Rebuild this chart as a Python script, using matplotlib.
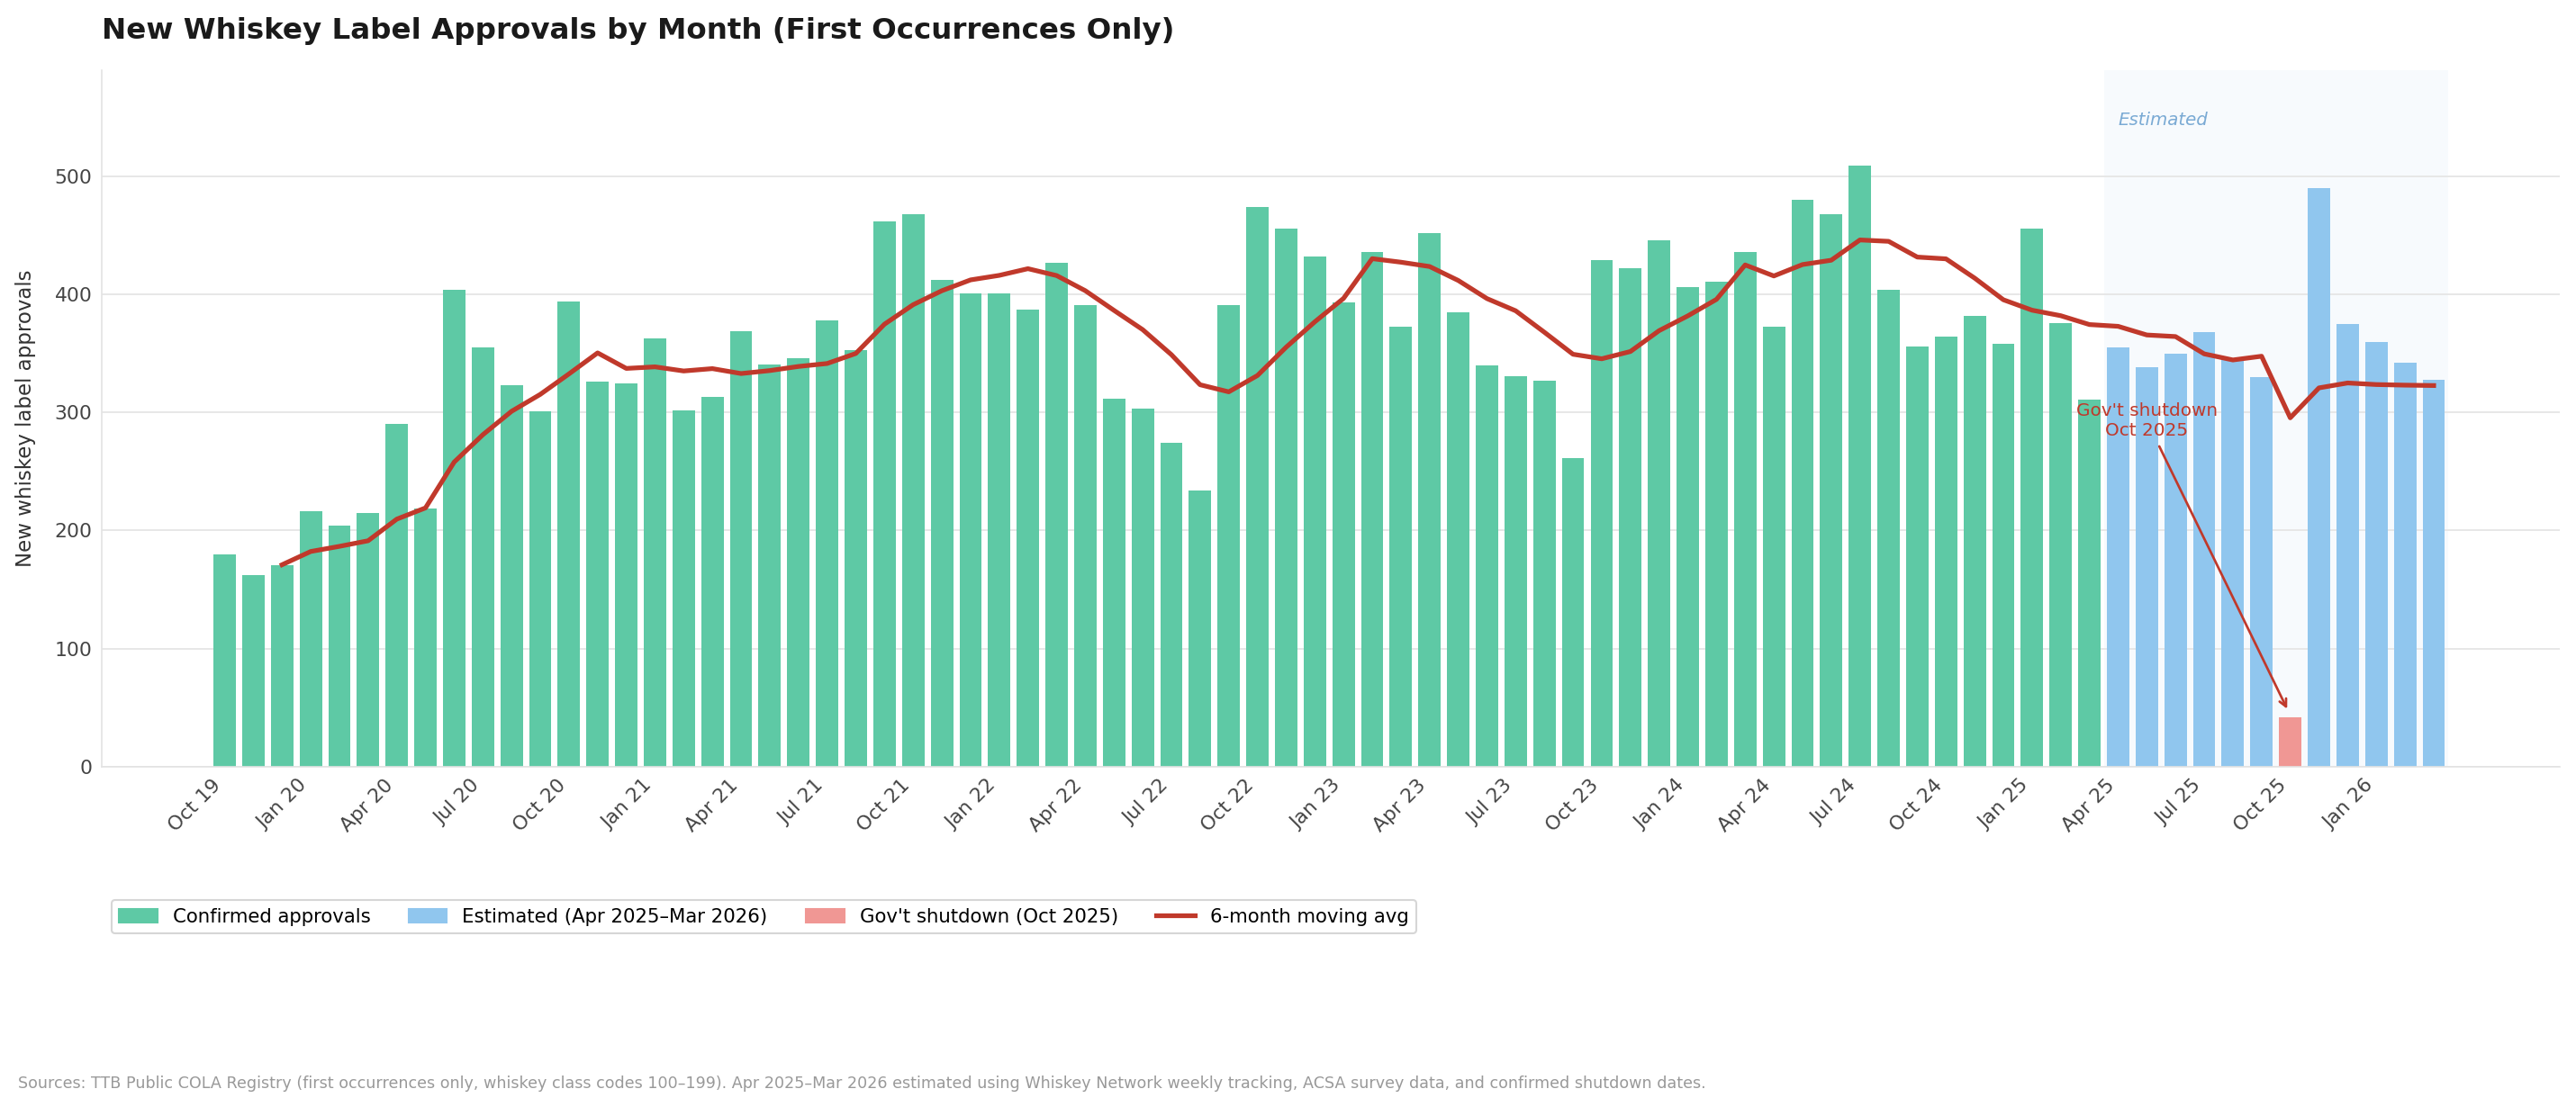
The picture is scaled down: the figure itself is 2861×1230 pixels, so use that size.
import matplotlib
matplotlib.use('Agg')
import matplotlib.pyplot as plt
from matplotlib.patches import Patch
from matplotlib.lines import Line2D
import numpy as np
import pandas as pd

# Months on the x axis (Oct 2019 .. Mar 2026)
months = pd.date_range('2019-10-01', periods=78, freq='MS')
month_labels = [m.strftime('%b %y') for m in months]

# Confirmed first-occurrence approvals, Oct 2019 .. Mar 2025
confirmed = [180, 162, 171, 216, 204, 215, 290, 219, 404, 355, 323, 301,
             394, 326, 325, 363, 302, 313, 369, 341, 346, 378, 353, 462,
             468, 412, 401, 401, 387, 427, 391, 312, 303, 274, 234, 391,
             474, 456, 432, 393, 436, 373, 452, 385, 340, 331, 327, 261,
             429, 422, 446, 406, 411, 436, 373, 480, 468, 509, 404, 356,
             364, 382, 358, 456, 376, 311]

# Estimated, Apr 2025 .. Mar 2026 (Oct 2025 = shutdown month)
estimated = [355, 338, 350, 368, 345, 330, 42, 490, 375, 360, 342, 328]
shutdown_month = 'Oct 25'

all_values = pd.Series(confirmed + estimated)
moving_avg = all_values.rolling(6, min_periods=3).mean()

green = '#5ec9a5'
blue = '#90c6ee'
pink = '#f09794'
red = '#c0392b'

x = np.arange(len(all_values))
n_conf = len(confirmed)
shut_idx = month_labels.index(shutdown_month)

fig = plt.figure(figsize=(2861 / 150, 1230 / 150), dpi=150)
ax = fig.add_axes([0.0395, 0.3075, 0.9542, 0.6291])

# shaded estimate window
ax.axvspan(n_conf - 0.5, len(all_values) - 0.5, color=blue, alpha=0.07, lw=0, zorder=0)

ax.bar(x[:n_conf], confirmed, width=0.78, color=green, zorder=2)
est_idx = [i for i in range(n_conf, len(all_values)) if i != shut_idx]
ax.bar(est_idx, [all_values[i] for i in est_idx], width=0.78, color=blue, zorder=2)
ax.bar([shut_idx], [all_values[shut_idx]], width=0.78, color=pink, zorder=2)

ax.plot(x, moving_avg, color=red, lw=2.5, zorder=3)

ax.text(n_conf, 548, 'Estimated', style='italic', color='#7aaad4',
        fontsize=9.5, ha='left', va='center')

ax.annotate("Gov't shutdown\nOct 2025", xy=(shut_idx - 0.05, 46),
            xytext=(n_conf + 1, 293), ha='center', va='center',
            color=red, fontsize=9.6,
            arrowprops=dict(arrowstyle='->', color=red, lw=1.3))

ax.set_ylim(0, 590)
ax.set_xticks(x[::3])
ax.set_xticklabels(month_labels[::3], rotation=45, ha='right')
ax.tick_params(axis='both', length=0, labelsize=10.5, colors='#444444', pad=5)
ax.set_yticks([0, 100, 200, 300, 400, 500])

ax.yaxis.grid(True, color='#e6e6e6', lw=0.9)
ax.set_axisbelow(True)
for s in ['top', 'right']:
    ax.spines[s].set_visible(False)
for s in ['left', 'bottom']:
    ax.spines[s].set_color('#e3e3e3')

ax.set_ylabel('New whiskey label approvals', fontsize=11, color='#333333', labelpad=10)
ax.set_title('New Whiskey Label Approvals by Month (First Occurrences Only)',
             loc='left', fontsize=15.6, fontweight='bold', color='#1a1a1a', pad=17)

handles = [Patch(color=green, label='Confirmed approvals'),
           Patch(color=blue, label='Estimated (Apr 2025\u2013Mar 2026)'),
           Patch(color=pink, label="Gov't shutdown (Oct 2025)"),
           Line2D([], [], color=red, lw=2.5, label='6-month moving avg')]
ax.legend(handles=handles, loc='upper left', bbox_to_anchor=(0.0, -0.178),
          ncol=4, fontsize=10.2, frameon=True)

fig.text(20 / 2861, 1 - 1209 / 1230,
         'Sources: TTB Public COLA Registry (first occurrences only, whiskey class codes 100\u2013199). '
         'Apr 2025\u2013Mar 2026 estimated using Whiskey Network weekly tracking, ACSA survey data, '
         'and confirmed shutdown dates.',
         fontsize=8.4, color='#999999', va='baseline', ha='left')

fig.savefig('out.png', dpi=150)
